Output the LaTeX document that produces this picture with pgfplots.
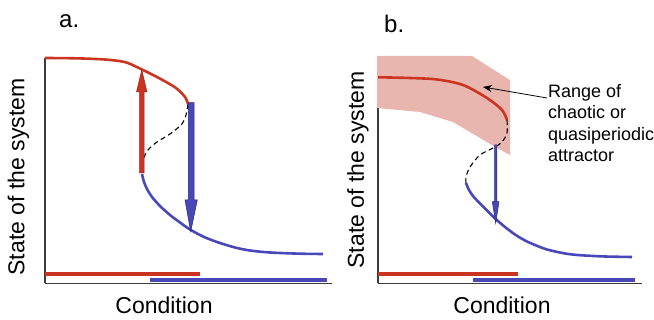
\documentclass[border=0pt]{standalone}
\usepackage{fontspec}
\setmainfont{Liberation Sans}
\usepackage{pgfplots}
\pgfplotsset{compat=1.18}
\usetikzlibrary{arrows.meta}
\definecolor{redc}{RGB}{204,52,34}
\definecolor{redd}{RGB}{150,30,20}
\definecolor{bluec}{RGB}{72,72,184}
\definecolor{blued}{RGB}{40,40,110}
\definecolor{pinkc}{RGB}{232,182,174}
\definecolor{axgray}{RGB}{60,60,60}
\pgfplotsset{
  panel/.style={
    scale only axis, axis lines=left, clip=false,
    axis line style={-, draw=axgray, line width=1.3pt},
    xtick=\empty, ytick=\empty,
  },
}
\begin{document}
\begin{tikzpicture}
\path[use as bounding box] (0,0) rectangle (654pt,320pt);
% ---------------- panel a ----------------
\begin{axis}[panel, anchor=south west, at={(45pt,36.7pt)},
  width=287pt, height=225.3pt, xmin=45, xmax=332, ymin=36.7, ymax=262]
  \addplot[redc, line width=2.6pt, smooth, tension=0.5] coordinates
    {(45,262) (75,261.7) (100,260.8) (115,259.5) (127,257.3) (142,250.5) (155,244) (167,237.5) (176,232) (182,226.5) (186,221.5) (188,216)};
  \addplot[black, line width=1.1pt, dash pattern=on 5pt off 3.5pt, smooth, tension=0.5] coordinates
    {(188,216) (186,205) (182,196) (170,186) (157,178) (148,170) (143,160) (142,150)};
  \addplot[bluec, line width=2.6pt, smooth, tension=0.5] coordinates
    {(142,146) (144,138) (147,131) (152,123) (160,114) (170,105) (180,97.5) (190,90.5) (203,83.5) (217,78) (235,72.5) (250,69.5) (270,67.5) (300,66.3) (323,66)};
  % arrows
  \addplot[fill=redc, draw=redd, line width=0.5pt] coordinates
    {(139.6,147) (139.6,228) (136.5,228) (141.8,250) (147,228) (144,228) (144,147)} -- cycle;
  \addplot[fill=bluec, draw=blued, line width=0.5pt] coordinates
    {(188.3,217.3) (188.3,120) (185,120) (190.7,88.3) (197.3,120) (194,120) (194,217.3)} -- cycle;
  % bars
  \addplot[redc, line width=4pt] coordinates {(45,46.3) (200,46.3)};
  \addplot[bluec, line width=4pt] coordinates {(150,40.3) (327,40.3)};
\end{axis}
% ---------------- panel b ----------------
\begin{axis}[panel, anchor=south west, at={(378pt,36.7pt)},
  width=264pt, height=206pt, xmin=378, xmax=642, ymin=36.7, ymax=242.7]
  \addplot[fill=pinkc, draw=none] coordinates
    {(377,264) (472,264) (510,240) (510,165) (495,173) (480,182) (453,198) (420,208) (377,212)} -- cycle;
  \addplot[redc, line width=2.6pt, smooth, tension=0.5] coordinates
    {(378,242.7) (410,242) (437,240.5) (463,235) (487,222) (502,210) (507,200)};
  \addplot[black, line width=1.1pt, dash pattern=on 5pt off 3.5pt, smooth, tension=0.5] coordinates
    {(507,200) (507,187) (502,178) (495,173) (480,165) (470,153) (466,143) (466,137)};
  \addplot[bluec, line width=2.6pt, smooth, tension=0.5] coordinates
    {(466,137) (469,130) (473,124) (478,118.5) (484,112.5) (490,106.5) (495,101.5) (505,93) (515,85.5) (525,79.5) (535,75) (547,70.5) (565,66.5) (580,64.8) (605,63.5) (632,63)};
  \addplot[fill=bluec, draw=blued, line width=0.5pt] coordinates
    {(494.5,175) (494.5,118.3) (492.3,118.3) (495.7,96.7) (499,118.3) (496.9,118.3) (496.9,175)} -- cycle;
  \addplot[black, line width=0.8pt, -{Stealth[length=9pt,width=7pt]}] coordinates
    {(547,222) (483,233)};
  \addplot[redc, line width=4pt] coordinates {(378,46.3) (518,46.3)};
  \addplot[bluec, line width=4pt] coordinates {(473,40.3) (635,40.3)};
\end{axis}
% ---------------- texts ----------------
\node[font=\fontsize{24}{28}\selectfont, anchor=west, inner sep=0pt] at (59pt,299pt) {a.};
\node[font=\fontsize{24}{28}\selectfont, anchor=west, inner sep=0pt] at (384pt,296pt) {b.};
\node[font=\fontsize{23}{27}\selectfont, inner sep=0pt] at (164pt,15pt) {Condition};
\node[font=\fontsize{23}{27}\selectfont, inner sep=0pt] at (502pt,15pt) {Condition};
\node[font=\fontsize{23}{27}\selectfont, inner sep=0pt, rotate=90] at (18.5pt,143pt) {State of the system};
\node[font=\fontsize{23}{27}\selectfont, inner sep=0pt, rotate=90] at (358pt,150pt) {State of the system};
\node[font=\fontsize{18}{21.5}\selectfont, align=left, anchor=west, inner sep=0pt] at (548pt,197pt)
  {Range of\\chaotic or\\quasiperiodic\\attractor};
\end{tikzpicture}
\end{document}
